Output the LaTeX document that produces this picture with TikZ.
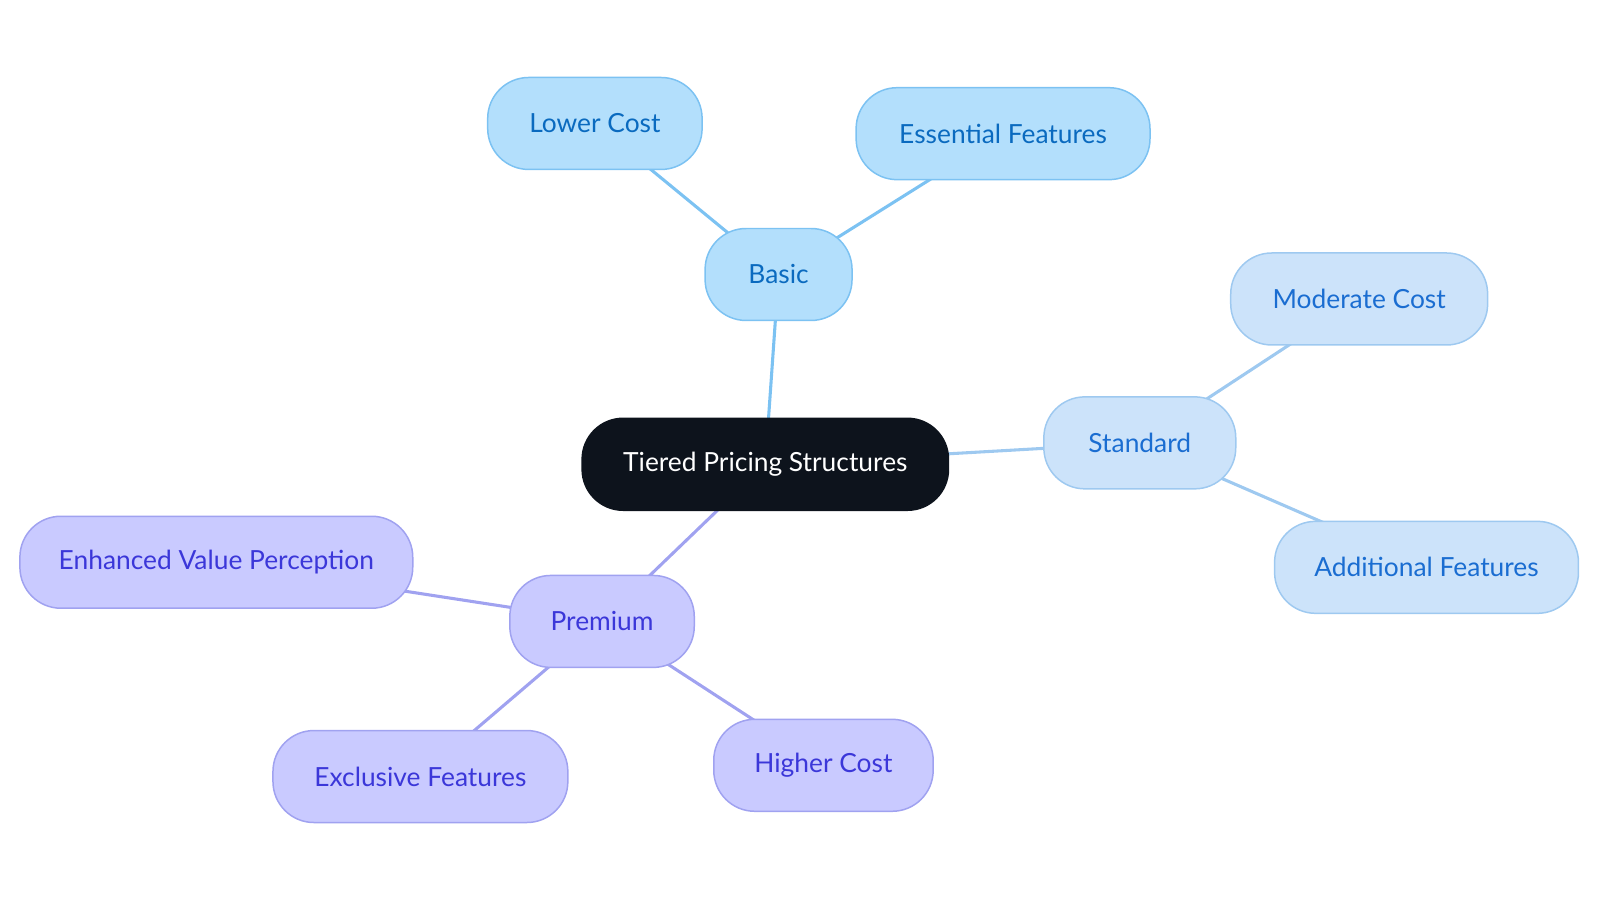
\documentclass[tikz,border=0pt]{standalone}
\usepackage{fontspec}
\setmainfont{Lato}
\usetikzlibrary{backgrounds}
\definecolor{rootfill}{HTML}{0D131C}
\definecolor{basicfill}{HTML}{B3DFFC}
\definecolor{basicline}{HTML}{7CC2F2}
\definecolor{basictext}{HTML}{0A6ABF}
\definecolor{stdfill}{HTML}{CCE3FA}
\definecolor{stdline}{HTML}{9EC9F0}
\definecolor{stdtext}{HTML}{1A6DD1}
\definecolor{premfill}{HTML}{C9CAFF}
\definecolor{premline}{HTML}{A0A2F0}
\definecolor{premtext}{HTML}{3B37D9}
\tikzset{
  pill/.style={rounded corners=0.82cm, minimum height=1.84cm, inner sep=0pt,
    line width=0.85pt, font=\fontsize{15}{18}\selectfont},
  basicbox/.style={pill, fill=basicfill, draw=basicline, text=basictext},
  stdbox/.style={pill, fill=stdfill, draw=stdline, text=stdtext},
  prembox/.style={pill, fill=premfill, draw=premline, text=premtext},
  rootbox/.style={pill, fill=rootfill, draw=rootfill, text=white},
  link/.style={line width=1.75pt}
}
\begin{document}
\begin{tikzpicture}[x=0.02041cm, y=-0.02041cm]
            \useasboundingbox (0,0) rectangle (1568,885);

            \node[rootbox, minimum width=7.33cm] (root) at (750, 455) {Tiered Pricing Structures};

            \node[basicbox, minimum width=2.94cm] (basic) at (763, 269) {Basic};
            \node[basicbox, minimum width=4.29cm] (lower) at (583, 121) {Lower Cost};
            \node[basicbox, minimum width=5.88cm] (essential) at (983, 131) {Essential Features};

            \node[stdbox, minimum width=3.84cm] (standard) at (1117, 434) {Standard};
            \node[stdbox, minimum width=5.14cm] (moderate) at (1332, 293) {Moderate Cost};
            \node[stdbox, minimum width=6.08cm] (additional) at (1398, 556) {Additional Features};

            \node[prembox, minimum width=3.69cm] (premium) at (590, 609) {Premium};
            \node[prembox, minimum width=7.86cm] (enhanced) at (212, 551) {Enhanced Value Perception};
            \node[prembox, minimum width=5.9cm] (exclusive) at (412, 761) {Exclusive Features};
            \node[prembox, minimum width=4.39cm] (higher) at (807, 750) {Higher Cost};

            \begin{scope}[on background layer]
                \draw[link, basicline] (root.center) -- (basic.center);
                \draw[link, basicline] (basic.center) -- (lower.center);
                \draw[link, basicline] (basic.center) -- (essential.center);

                \draw[link, stdline] (root.center) -- (standard.center);
                \draw[link, stdline] (standard.center) -- (moderate.center);
                \draw[link, stdline] (standard.center) -- (additional.center);

                \draw[link, premline] (root.center) -- (premium.center);
                \draw[link, premline] (premium.center) -- (enhanced.center);
                \draw[link, premline] (premium.center) -- (exclusive.center);
                \draw[link, premline] (premium.center) -- (higher.center);
            \end{scope}

        \end{tikzpicture}
\end{document}
